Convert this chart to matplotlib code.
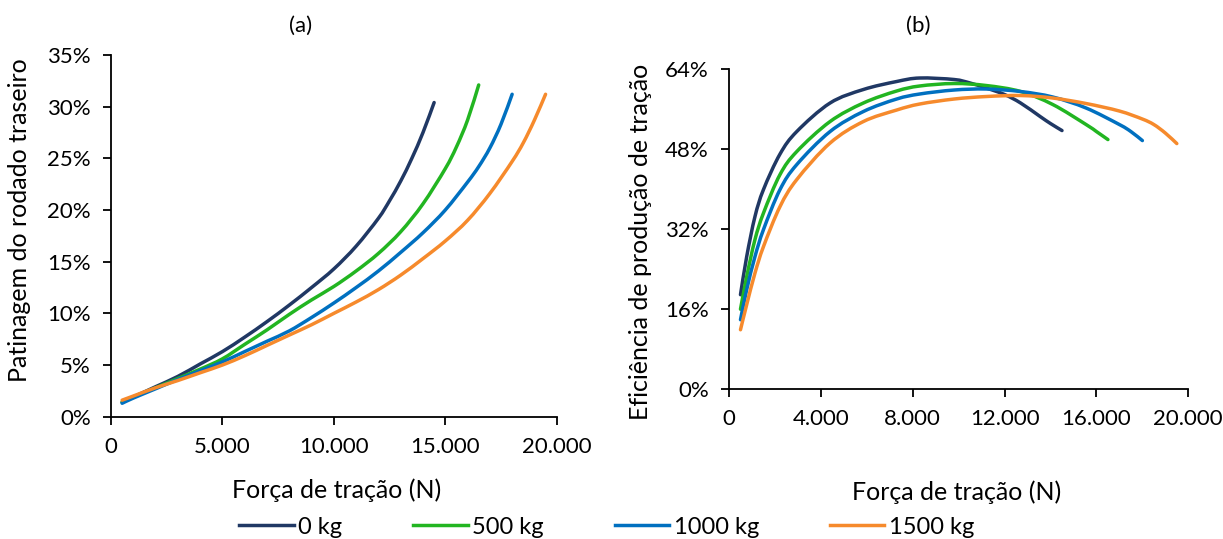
import matplotlib
matplotlib.use("Agg")
import numpy as np
import matplotlib.pyplot as plt
from matplotlib.path import Path
from matplotlib.patches import PathPatch
from matplotlib.lines import Line2D
from matplotlib.ticker import FuncFormatter, MultipleLocator

plt.rcParams['font.family'] = ['Lato', 'DejaVu Sans']

# ---- data -------------------------------------------------------------
labels = ["0 kg", "500 kg", "1000 kg", "1500 kg"]
colors = ["#203864", "#22B521", "#0070C0", "#F68A2C"]

# (a) wheel slip (%) versus drawbar pull (N)
slip_x_0 = [500, 1000, 2000, 3000, 4000, 5000, 6000, 7000, 8000, 9000, 10000,
            11000, 12000, 12500, 13000, 13500, 14000, 14500]
slip_y_0 = [1.4, 1.9, 2.9, 3.9, 5.1, 6.3, 7.7, 9.2, 10.8, 12.5, 14.3,
            16.5, 19.2, 20.9, 22.8, 25.0, 27.5, 30.4]
slip_x_500 = [500, 1000, 2000, 3000, 4000, 5000, 6000, 7000, 8000, 9000, 10000,
              11000, 12000, 13000, 14000, 15000, 15500, 16000, 16500]
slip_y_500 = [1.4, 1.9, 2.8, 3.7, 4.6, 5.6, 7.0, 8.4, 9.9, 11.3, 12.6,
              14.1, 15.8, 17.9, 20.6, 24.0, 26.1, 28.7, 32.1]
slip_x_1000 = [500, 1000, 2000, 3000, 4000, 5000, 6000, 7000, 8000, 9000, 10000,
               11000, 12000, 13000, 14000, 15000, 16000, 16500, 17000, 17500, 18000]
slip_y_1000 = [1.3, 1.8, 2.7, 3.6, 4.45, 5.3, 6.3, 7.3, 8.3, 9.6, 11.0,
               12.5, 14.1, 15.9, 17.8, 20.0, 22.7, 24.2, 26.0, 28.3, 31.2]
slip_x_1500 = [500, 1000, 2000, 3000, 4000, 5000, 6000, 7000, 8000, 9000, 10000,
               11000, 12000, 13000, 14000, 15000, 16000, 17000, 18000, 18500,
               19000, 19500]
slip_y_1500 = [1.6, 2.0, 2.8, 3.5, 4.25, 5.0, 5.9, 6.9, 7.9, 8.9, 10.0,
               11.1, 12.3, 13.7, 15.3, 17.0, 19.0, 21.6, 24.7, 26.5,
               28.7, 31.2]

# (b) tractive efficiency (%) versus drawbar pull (N)
eff_x_0 = [500, 770, 1130, 1500, 2220, 2950, 4400, 5850, 7300, 8300, 9800,
           10500, 11200, 12000, 12700, 13550, 14000, 14500]
eff_y_0 = [18.9, 26.5, 34.5, 39.9, 47.0, 51.5, 57.2, 59.9, 61.5, 62.2, 61.9,
           61.2, 60.2, 58.9, 57.2, 54.5, 53.1, 51.7]
eff_x_500 = [500, 770, 1130, 1500, 2220, 2950, 4400, 5850, 7300, 8300, 9800,
             11200, 12700, 14100, 15550, 16000, 16500]
eff_y_500 = [16.0, 22.5, 29.9, 35.2, 42.9, 47.5, 53.5, 57.2, 59.6, 60.6, 61.1,
             60.7, 59.5, 56.9, 52.9, 51.5, 49.9]
eff_x_1000 = [500, 770, 1130, 1500, 2220, 2950, 4400, 5850, 7300, 8300, 9800,
              11200, 12700, 14100, 15550, 17000, 17500, 18000]
eff_y_1000 = [13.9, 19.9, 26.5, 31.9, 39.9, 44.9, 51.5, 55.5, 58.0, 59.0, 59.8,
              60.0, 59.5, 58.4, 56.2, 52.9, 51.5, 49.7]
eff_x_1500 = [500, 770, 1130, 1500, 2220, 2950, 4400, 5850, 7300, 8300, 9800,
              11200, 12700, 14100, 15550, 17000, 18000, 18500, 19000, 19500]
eff_y_1500 = [11.9, 16.9, 23.2, 28.5, 36.5, 41.9, 49.2, 53.5, 55.8, 57.0, 58.0,
              58.5, 58.7, 58.2, 57.1, 55.6, 54.0, 52.9, 51.2, 49.1]

slip_series = [(slip_x_0, slip_y_0), (slip_x_500, slip_y_500),
               (slip_x_1000, slip_y_1000), (slip_x_1500, slip_y_1500)]
eff_series = [(eff_x_0, eff_y_0), (eff_x_500, eff_y_500),
              (eff_x_1000, eff_y_1000), (eff_x_1500, eff_y_1500)]


def smooth_line(ax, x, y, color, lw):
    """Draw a smoothed (Catmull-Rom style) line through the data points."""
    p = np.column_stack([x, y]).astype(float)
    ext = np.vstack([p[0], p, p[-1]])
    verts = [p[0]]
    codes = [Path.MOVETO]
    for i in range(1, len(ext) - 2):
        p0, p1, p2, p3 = ext[i - 1], ext[i], ext[i + 1], ext[i + 2]
        c1 = p1 + (p2 - p0) / 6.0
        c2 = p2 - (p3 - p1) / 6.0
        verts += [c1, c2, p2]
        codes += [Path.CURVE4] * 3
    ax.add_patch(PathPatch(Path(verts, codes), fill=False, edgecolor=color,
                           lw=lw, capstyle="round", joinstyle="round"))


# ---- figure ------------------------------------------------------------
W, H = 1223, 539
fig = plt.figure(figsize=(W / 100, H / 100), dpi=100)

def px_axes(left, right, top, bottom):
    return fig.add_axes([left / W, (H - bottom) / H, (right - left) / W, (bottom - top) / H])

ax_a = px_axes(111, 556.7, 55, 416.7)
ax_b = px_axes(729, 1188.3, 69, 389.3)

thousands = FuncFormatter(lambda v, p: f"{int(round(v)):,}".replace(",", "."))
percent = FuncFormatter(lambda v, p: f"{v:.0f}%")

FS = 16
FL = 18
for ax in (ax_a, ax_b):
    for s in ("top", "right"):
        ax.spines[s].set_visible(False)
    for s in ("left", "bottom"):
        ax.spines[s].set_linewidth(1.3)
        ax.spines[s].set_color("black")
    ax.tick_params(direction="out", length=5.5, width=1.3, pad=9,
                   labelsize=FS, colors="black")
    ax.xaxis.set_major_formatter(thousands)
    ax.yaxis.set_major_formatter(percent)
    ax.set_xlim(0, 20000)

LW = 2.5
for (x, y), c in zip(slip_series, colors):
    smooth_line(ax_a, x, y, c, LW)
for (x, y), c in zip(eff_series, colors):
    smooth_line(ax_b, x, y, c, LW)

ax_a.set_ylim(0, 35)
ax_a.xaxis.set_major_locator(MultipleLocator(5000))
ax_a.yaxis.set_major_locator(MultipleLocator(5))
ax_b.set_ylim(0, 64)
ax_b.xaxis.set_major_locator(MultipleLocator(4000))
ax_b.yaxis.set_major_locator(MultipleLocator(16))

ax_a.set_xlabel("Força de tração (N)", fontsize=FL, va="center")
ax_a.xaxis.set_label_coords((337 - 111) / 445.7, (416.7 - 490) / 361.7)
ax_a.set_ylabel("Patinagem do rodado traseiro", fontsize=FL, va="center")
ax_a.yaxis.set_label_coords((20 - 111) / 445.7, (416.7 - 220) / 361.7)

ax_b.set_xlabel("Força de tração (N)", fontsize=FL, va="center")
ax_b.xaxis.set_label_coords((957 - 729) / 459.3, (389.3 - 492) / 320.3)
ax_b.set_ylabel("Eficiência de produção de tração", fontsize=FL, va="center")
ax_b.yaxis.set_label_coords((640 - 729) / 459.3, (389.3 - 242) / 320.3)

# panel titles
fig.text(301 / W, (H - 26) / H, "(a)", fontsize=FS, ha="center", va="center")
fig.text(918 / W, (H - 26) / H, "(b)", fontsize=FS, ha="center", va="center")

handles = [Line2D([], [], color=c, lw=LW) for c in colors]
fig.legend(handles, labels, loc="center", bbox_to_anchor=(607 / W, (H - 527) / H),
           ncol=4, frameon=False, fontsize=17, handlelength=2.3,
           handletextpad=0.2, columnspacing=3.0, borderpad=0)

fig.savefig("out.png", dpi=100)
